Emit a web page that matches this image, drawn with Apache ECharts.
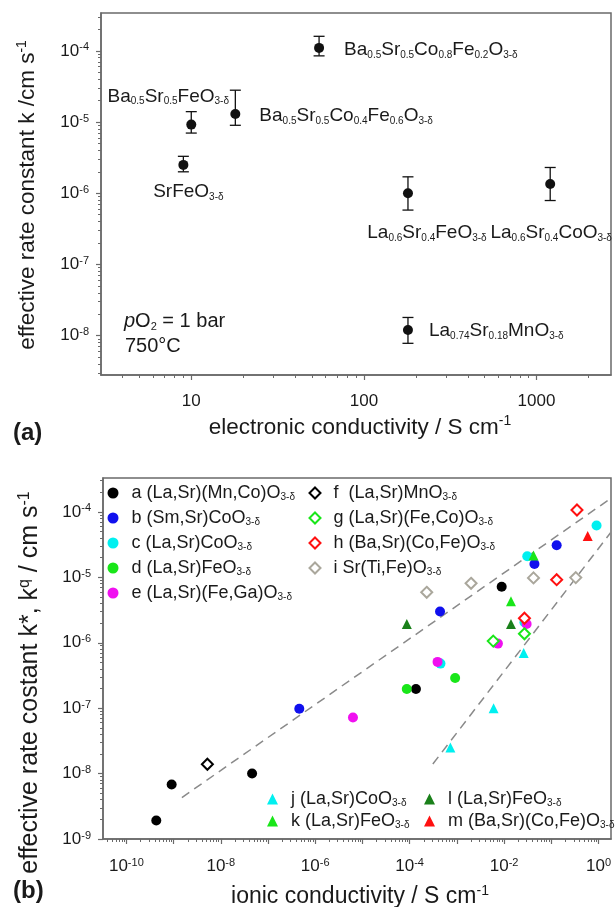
<!DOCTYPE html>
<html><head><meta charset="utf-8">
<script src="https://cdn.jsdelivr.net/npm/echarts@6/dist/echarts.min.js"></script>
<style>html,body{margin:0;padding:0;background:#fff}#c{width:616px;height:907px}</style>
</head><body><div id="c"></div>
<script>
// ---------------- Panel (a): k vs electronic conductivity ----------------
const matNamesA = ['Ba0.5Sr0.5Co0.8Fe0.2O3-δ','Ba0.5Sr0.5FeO3-δ','Ba0.5Sr0.5Co0.4Fe0.6O3-δ','SrFeO3-δ','La0.6Sr0.4FeO3-δ','La0.6Sr0.4CoO3-δ','La0.74Sr0.18MnO3-δ'];
const matRichA = ['Ba{s|0.5}Sr{s|0.5}Co{s|0.8}Fe{s|0.2}O{s|3-δ}','Ba{s|0.5}Sr{s|0.5}FeO{s|3-δ}','Ba{s|0.5}Sr{s|0.5}Co{s|0.4}Fe{s|0.6}O{s|3-δ}','SrFeO{s|3-δ}','La{s|0.6}Sr{s|0.4}FeO{s|3-δ}','La{s|0.6}Sr{s|0.4}CoO{s|3-δ}','La{s|0.74}Sr{s|0.18}MnO{s|3-δ}'];
const sigmaElec = [55, 10, 18, 9.0, 180, 1200, 180];
const kEff      = [1.1e-4, 9.2e-6, 1.3e-5, 2.5e-6, 1.0e-6, 1.35e-6, 1.2e-8];
const kLow      = [8.5e-5, 7.0e-6, 9.0e-6, 2.0e-6, 5.8e-7, 7.9e-7, 7.8e-9];
const kHigh     = [1.6e-4, 1.4e-5, 2.8e-5, 3.3e-6, 1.7e-6, 2.3e-6, 1.8e-8];
const topXTicks = [10, 100, 1000];
const topYTicks = [1e-8, 1e-7, 1e-6, 1e-5, 1e-4];

// ---------------- Panel (b): k vs ionic conductivity ----------------
const serA = [[4.3e-10,1.92e-9],[9.1e-10,6.8e-9],[4.6e-8,1.0e-8],[1.36e-4,1.96e-7],[8.9e-3,7.2e-6]];
const serB = [[4.6e-7,9.8e-8],[4.4e-4,3.0e-6],[0.044,1.6e-5],[0.13,3.1e-5]];
const serC = [[4.5e-4,4.8e-7],[0.027,2.06e-6],[0.031,2.1e-5],[0.91,6.2e-5]];
const serD = [[8.7e-5,1.96e-7],[9.2e-4,2.9e-7]];
const serE = [[6.3e-6,7.2e-8],[3.9e-4,5.1e-7],[7.4e-3,9.7e-7],[0.030,1.94e-6]];
const serF = [[5.2e-9,1.39e-8]];
const serG = [[5.9e-3,1.06e-6],[0.027,1.37e-6]];
const serH = [[0.027,2.37e-6],[0.13,9.2e-6],[0.35,1.07e-4]];
const serI = [[2.3e-4,5.9e-6],[2.0e-3,8.1e-6],[0.042,9.8e-6],[0.33,9.9e-6]];
const serJ = [[7.3e-4,2.5e-8],[6.0e-3,1.0e-7],[0.026,7.0e-7]];
const serK = [[0.014,4.3e-6],[0.042,2.15e-5]];
const serL = [[8.7e-5,1.94e-6],[0.014,1.94e-6]];
const serM = [[0.59,4.3e-5]];
const fitLine1 = [[1.5e-9,4.3e-9],[1.8,1.6e-4]];
const fitLine2 = [[3.1e-4,1.4e-8],[1.8,4.8e-5]];
const legendTextB = {
  a:'a (La,Sr)(Mn,Co)O{s|3-δ}', b:'b (Sm,Sr)CoO{s|3-δ}', c:'c (La,Sr)CoO{s|3-δ}', d:'d (La,Sr)FeO{s|3-δ}', e:'e (La,Sr)(Fe,Ga)O{s|3-δ}',
  f:'f  (La,Sr)MnO{s|3-δ}', g:'g (La,Sr)(Fe,Co)O{s|3-δ}', h:'h (Ba,Sr)(Co,Fe)O{s|3-δ}', i:'i Sr(Ti,Fe)O{s|3-δ}',
  j:'j (La,Sr)CoO{s|3-δ}', k:'k (La,Sr)FeO{s|3-δ}', l:'l (La,Sr)FeO{s|3-δ}', m:'m (Ba,Sr)(Co,Fe)O{s|3-δ}'
};
const botXTicks  = [1e-10,1e-9,1e-8,1e-7,1e-6,1e-5,1e-4,1e-3,1e-2,1e-1,1];
const botXLabels = [1e-10,1e-8,1e-6,1e-4,1e-2,1];
const botYTicks  = [1e-9,1e-8,1e-7,1e-6,1e-5,1e-4];

// ---------------- styling ----------------
const FONT = '"Liberation Sans", Arial, Helvetica, sans-serif';
const TXT = '#1a1a1a';
const AXC = '#6a6a6a';
const CYAN = '#00f0f0', GREEN = '#19e619', BLUE = '#1010ee', MAG = '#f010f0', RED = '#ff1010', DKGREEN = '#1a801a', GRAY = '#aaa79c';

function minorTicks(min, max) {
  const out = [];
  for (let e = Math.floor(Math.log10(min)); e <= Math.ceil(Math.log10(max)); e++) {
    for (let m = 2; m <= 9; m++) { const v = Number(m + 'e' + e); if (v > min && v < max) out.push(v); }
  }
  return out;
}
const expFmt = v => '10{p|' + Math.round(Math.log10(v)) + '}';
const supRich = { p: { fontSize: 11, lineHeight: 8, verticalAlign: 'top', fontFamily: FONT, color: TXT } };
const subRich = { s: { fontSize: 10, lineHeight: 6, verticalAlign: 'bottom', fontFamily: FONT, color: TXT } };

const ext = {
  tx: [3, 2700], ty: [2.8e-9, 3.4e-4],
  bx: [3.2e-11, 1.84], by: [1e-9, 3.3e-4]
};

function mainAxis(grid, range, ticks, labels, fmt, pos, margin, name, nameGap, nameSize, namePad) {
  return {
    gridIndex: grid, type: 'log', logBase: 10, min: range[0], max: range[1], position: pos,
    axisLine: { show: true, onZero: false, lineStyle: { color: AXC, width: 1.5 } },
    axisTick: { show: true, inside: false, customValues: ticks, length: 5, lineStyle: { color: AXC, width: 1.2 } },
    axisLabel: { show: true, customValues: labels, margin: margin, formatter: fmt, fontSize: 17, lineHeight: 18,
      color: TXT, fontFamily: FONT, rich: supRich },
    splitLine: { show: false }, minorTick: { show: false }, minorSplitLine: { show: false },
    name: name, nameLocation: 'middle', nameGap: nameGap, nameMoveOverlap: false,
    nameTextStyle: { fontSize: nameSize, lineHeight: 26, color: TXT, fontFamily: FONT, padding: namePad,
      rich: { p: { fontSize: Math.round(nameSize * 0.62), lineHeight: 10, verticalAlign: 'top', fontFamily: FONT, color: TXT } } }
  };
}
function minorAxis(grid, range, pos) {
  return {
    gridIndex: grid, type: 'log', logBase: 10, min: range[0], max: range[1], position: pos,
    axisLine: { show: false, onZero: false },
    axisTick: { show: true, inside: false, customValues: minorTicks(range[0], range[1]), length: 3, lineStyle: { color: AXC, width: 1 } },
    axisLabel: { show: false }, splitLine: { show: false }, name: ''
  };
}

const xAxes = [
  mainAxis(0, ext.tx, topXTicks, topXTicks, v => String(Math.round(v)), 'bottom', 17,
    'electronic conductivity / S cm{p|-1}', 39.5, 22.5, [0, 0, 0, 8]),
  minorAxis(0, ext.tx, 'bottom'),
  mainAxis(1, ext.bx, botXTicks, botXLabels, expFmt, 'bottom', 18,
    'ionic conductivity / S cm{p|-1}', 45, 23, [0, 0, 0, 6]),
  minorAxis(1, ext.bx, 'bottom')
];
const yAxes = [
  mainAxis(0, ext.ty, topYTicks, topYTicks, expFmt, 'left', 12,
    'effective rate constant k /cm s{p|-1}', 60, 22.5, [0, 2, 0, 0]),
  minorAxis(0, ext.ty, 'left'),
  mainAxis(1, ext.by, botYTicks, botYTicks, expFmt, 'left', 12,
    'effective rate costant k*, k{p|q} / cm s{p|-1}', 60, 25, [0, 48, 0, 0]),
  minorAxis(1, ext.by, 'left')
];

// label placement for panel (a) annotations (not data)
const labelPlaceA = [
  { position: 'right', distance: 20, offset: [0, 2] },
  { position: 'inside', offset: [-23, -28] },
  { position: 'right', distance: 19, offset: [0, 2] },
  { position: 'inside', offset: [5, 27] },
  { position: 'inside', offset: [19, 40] },
  { position: 'inside', offset: [1, 49] },
  { position: 'right', distance: 16, offset: [0, 1] }
];

const series = [];
// error bars
series.push({
  type: 'custom', xAxisIndex: 0, yAxisIndex: 0, silent: true, z: 2,
  data: sigmaElec.map((s, i) => [s, kLow[i], kHigh[i]]),
  encode: { x: 0, y: [1, 2] },
  renderItem: function (params, api) {
    const x = api.value(0);
    const lo = api.coord([x, api.value(1)]);
    const hi = api.coord([x, api.value(2)]);
    const w = 5.5;
    const st = { stroke: '#111', lineWidth: 1.3 };
    return { type: 'group', children: [
      { type: 'line', shape: { x1: lo[0], y1: lo[1], x2: hi[0], y2: hi[1] }, style: st },
      { type: 'line', shape: { x1: lo[0] - w, y1: lo[1], x2: lo[0] + w, y2: lo[1] }, style: st },
      { type: 'line', shape: { x1: hi[0] - w, y1: hi[1], x2: hi[0] + w, y2: hi[1] }, style: st }
    ] };
  }
});
series.push({
  type: 'scatter', name: 'panelA', xAxisIndex: 0, yAxisIndex: 0, z: 3, silent: true,
  symbol: 'circle', symbolSize: 10, itemStyle: { color: '#111', opacity: 1 },
  data: sigmaElec.map((s, i) => ({
    value: [s, kEff[i]], name: matNamesA[i],
    label: Object.assign({ show: true, formatter: () => matRichA[i], fontSize: 19, lineHeight: 20,
      color: TXT, opacity: 1, fontFamily: FONT, rich: subRich }, labelPlaceA[i])
  }))
});

// dashed fit lines
[fitLine1, fitLine2].forEach(d => series.push({
  type: 'line', xAxisIndex: 2, yAxisIndex: 2, data: d, symbol: 'none', silent: true, z: 1,
  lineStyle: { color: '#8a8a8a', width: 1.5, type: [9, 6] }
}));

function scat(name, data, symbol, color, hollow, size) {
  return {
    type: 'scatter', name: name, xAxisIndex: 2, yAxisIndex: 2, data: data, symbol: symbol,
    symbolSize: size, silent: true, z: 3,
    itemStyle: hollow ? { color: '#fff', borderColor: color, borderWidth: 2, opacity: 1 } : { color: color, opacity: 1 }
  };
}
series.push(scat('a', serA, 'circle', '#000', false, 10));
series.push(scat('b', serB, 'circle', BLUE, false, 10));
series.push(scat('c', serC, 'circle', CYAN, false, 10));
series.push(scat('d', serD, 'circle', GREEN, false, 10));
series.push(scat('e', serE, 'circle', MAG, false, 10));
series.push(scat('f', serF, 'diamond', '#000', true, 11));
series.push(scat('g', serG, 'diamond', GREEN, true, 11));
series.push(scat('h', serH, 'diamond', RED, true, 11));
series.push(scat('i', serI, 'diamond', GRAY, true, 11));
series.push(scat('j', serJ, 'triangle', CYAN, false, 10));
series.push(scat('k', serK, 'triangle', GREEN, false, 10));
series.push(scat('l', serL, 'triangle', DKGREEN, false, 10));
series.push(scat('m', serM, 'triangle', RED, false, 10));

function legendBox(names, icon, left, top, gap) {
  return {
    orient: 'vertical', left: left, top: top, itemGap: gap, itemWidth: 11, itemHeight: 11,
    selectedMode: false, padding: 0, icon: icon, symbolKeepAspect: true,
    data: names.map(n => ({ name: n, icon: icon })),
    formatter: n => '{g| }' + legendTextB[n],
    textStyle: { fontSize: 18, lineHeight: 18, color: TXT, fontFamily: FONT,
      rich: Object.assign({ g: { width: 8, fontSize: 10, lineHeight: 10 } }, subRich) }
  };
}

const option = {
  animation: false,
  backgroundColor: '#fff',
  grid: [
    { left: 101, right: 5, top: 13, bottom: 532, show: true, borderColor: AXC, borderWidth: 1.5, backgroundColor: 'transparent', containLabel: false, outerBoundsMode: 'none' },
    { left: 103, right: 5, top: 478, bottom: 68, show: true, borderColor: AXC, borderWidth: 1.5, backgroundColor: 'transparent', containLabel: false, outerBoundsMode: 'none' }
  ],
  xAxis: xAxes,
  yAxis: yAxes,
  legend: [
    legendBox(['a','b','c','d','e'], 'circle', 107.5, 484, 7),
    legendBox(['f','g','h','i'], 'diamond', 308.5, 484, 7),
    legendBox(['j','k'], 'triangle', 267, 790, 4),
    legendBox(['l','m'], 'triangle', 424, 790, 4)
  ],
  graphic: [
    { type: 'text', x: 124, y: 321, silent: true, style: { text: '{i|p}O{s|2} = 1 bar', fontSize: 20, lineHeight: 22, fontFamily: FONT, fill: TXT, verticalAlign: 'middle',
      rich: { i: { fontSize: 20, fontStyle: 'italic', fontFamily: FONT, color: TXT }, s: { fontSize: 11, lineHeight: 6, verticalAlign: 'bottom', fontFamily: FONT, color: TXT } } } },
    { type: 'text', x: 125, y: 346, silent: true, style: { text: '750°C', fontSize: 20, fontFamily: FONT, fill: TXT, verticalAlign: 'middle' } },
    { type: 'text', x: 13, y: 433, silent: true, style: { text: '(a)', fontSize: 24, fontWeight: 'bold', fontFamily: FONT, fill: TXT, verticalAlign: 'middle' } },
    { type: 'text', x: 13, y: 891, silent: true, style: { text: '(b)', fontSize: 24, fontWeight: 'bold', fontFamily: FONT, fill: TXT, verticalAlign: 'middle' } }
  ],
  series: series
};
const chart = echarts.init(document.getElementById('c'), null, { renderer: 'canvas' });
chart.setOption(option);
</script>
</body></html>
